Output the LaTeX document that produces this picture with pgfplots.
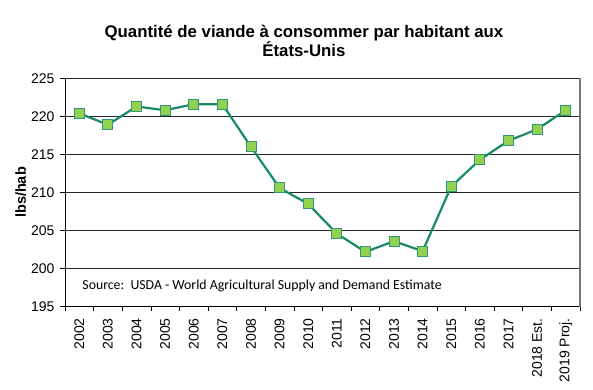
\documentclass[border=0pt]{standalone}
\usepackage{pgfplots}
\pgfplotsset{compat=1.18}
\usepackage{fontspec}
\setmainfont{Liberation Sans}
\newfontfamily\calibri{Carlito}
\definecolor{lineteal}{RGB}{24,138,108}
\definecolor{markedge}{RGB}{50,150,120}
\definecolor{lgreen}{RGB}{146,208,80}
\begin{document}
\begin{tikzpicture}[x=1pt,y=1pt]
\path[use as bounding box] (0,0) rectangle (593,389);
\begin{axis}[
  at={(65pt,82.3pt)}, anchor=south west,
  scale only axis, width=515pt, height=228.4pt,
  xmin=-0.5, xmax=17.5, ymin=195, ymax=225,
  ytick={195,200,...,225},
  xtick={0,...,17},
  xticklabels={2002,2003,2004,2005,2006,2007,2008,2009,2010,2011,2012,2013,2014,2015,2016,2017,2018 Est.,2019 Proj.},
  minor xtick={-0.5,0.5,...,17.5},
  major x tick style={draw=none},
  minor x tick style={black, line width=0.6pt},
  minor tick length=4pt,
  major tick length=5pt,
  tick align=outside,
  y tick style={black, line width=0.6pt},
  axis x line*=bottom, axis y line*=left,
  axis line style={-, black, line width=0.8pt},
  ymajorgrids, grid style={black!85, line width=0.9pt},
  x tick label style={rotate=90, anchor=east, font=\fontsize{14}{15}\selectfont},
  y tick label style={font=\fontsize{14}{15}\selectfont},
  xticklabel shift=3pt,
  yticklabel shift=2pt,
  /pgf/number format/assume math mode=true,
  ylabel={\bfseries lbs/hab},
  ylabel style={font=\fontsize{14.5}{16}\selectfont, yshift=-2pt},
  title={Quantité de viande à consommer par habitant aux\\États-Unis},
  title style={font=\fontsize{16.8}{18}\selectfont\bfseries, align=center, at={(rel axis cs:0.464,1)}, anchor=south, yshift=12pt},
  clip=false,
]
\addplot[lineteal, line width=2.2pt, mark=square*, mark size=5pt,
  mark options={fill=lgreen, draw=markedge, line width=0.9pt}]
  coordinates {
  (0,220.4) (1,218.9) (2,221.3) (3,220.8) (4,221.6) (5,221.6)
  (6,216.0) (7,210.6) (8,208.5) (9,204.6) (10,202.2) (11,203.6)
  (12,202.3) (13,210.8) (14,214.3) (15,216.8) (16,218.3) (17,220.8)
  };
\draw[black!55, line width=1.8pt] (rel axis cs:1,0) -- (rel axis cs:1,1);
\node[anchor=base west, font=\calibri\fontsize{13.8}{15}\selectfont] at (rel axis cs:0.027,0.0775) {Source:\ \ USDA - World Agricultural Supply and Demand Estimate};
\end{axis}
\end{tikzpicture}
\end{document}
